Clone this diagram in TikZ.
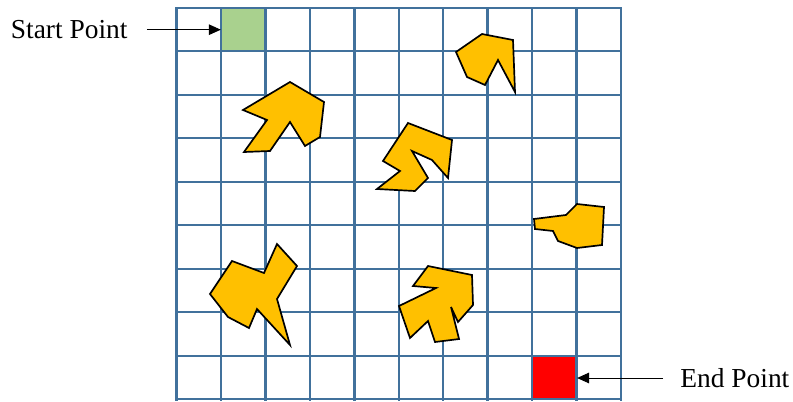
\documentclass[tikz,border=0pt]{standalone}
\usepackage{fontspec}
\setmainfont{Liberation Serif}
\usetikzlibrary{arrows.meta,positioning}
\definecolor{gridblue}{HTML}{41719C}
\definecolor{startgreen}{HTML}{A9D18E}
\definecolor{obstacleorange}{HTML}{FFC000}

\begin{document}
\begin{tikzpicture}[
    x=0.025cm, y=-0.025cm,
    cell/.style={inner sep=0pt, minimum width=1.111cm, minimum height=1.088cm},
    pointlabel/.style={inner sep=0pt, font=\fontsize{19.5}{22}\selectfont},
    pointer/.style={-{Triangle[length=8.5pt, width=7.5pt]}, line width=0.7pt},
    gridline/.style={draw=gridblue, line width=1.7pt, line cap=rect},
    obstacle/.style={draw=black, fill=obstacleorange, line width=1.2pt}
  ]
    \useasboundingbox (0,0) rectangle (793,401);

    \node[cell, fill=startgreen] (start) at (243.3,29.7) {};
    \node[cell, fill=red] (end) at (554.6,378) {};

    \foreach \i in {0,...,10}
      \draw[gridline] ({176.5+44.45*\i},7.7) -- ({176.5+44.45*\i},399.3);
    \foreach \j in {0,...,9}
      \draw[gridline] (176.5,{7.7+43.51*\j}) -- (621,{7.7+43.51*\j});

    \draw[obstacle] (290,82) -- (324,102) -- (320,137) -- (305,146) -- (290,122)
      -- (270,151) -- (244,152) -- (267,120) -- (243,110) -- cycle;
    \draw[obstacle] (482,34) -- (513,40) -- (515,92) -- (498,60) -- (485,85)
      -- (467,77) -- (456,52) -- cycle;
    \draw[obstacle] (408,123) -- (452,140) -- (448,178) -- (432,160) -- (412,151)
      -- (428,178) -- (415,191) -- (377,189) -- (400,171) -- (383,161) -- cycle;
    \draw[obstacle] (577,204) -- (604,207) -- (602,245) -- (577,248) -- (558,241)
      -- (553,231) -- (535,229) -- (534,219) -- (566,215) -- cycle;
    \draw[obstacle] (210,294) -- (232,261) -- (264,273) -- (277,244) -- (297,266)
      -- (277,299) -- (290,345) -- (257,309) -- (249,328) -- (228,317) -- cycle;
    \draw[obstacle] (428,266) -- (472,275) -- (473,305) -- (458,322) -- (451,307)
      -- (459,339) -- (435,342) -- (428,321) -- (410,338) -- (399,306)
      -- (436,288) -- (413,286) -- cycle;

    \node[pointlabel, left=2.325cm of start] (startlbl) {Start Point};
    \node[pointlabel, right=2.575cm of end] (endlbl) {End Point};

    \draw[pointer, shorten <=0.475cm] (startlbl.east) -- (start.west);
    \draw[pointer, shorten <=0.425cm] (endlbl.west) -- (end.east);
  \end{tikzpicture}
\end{document}
